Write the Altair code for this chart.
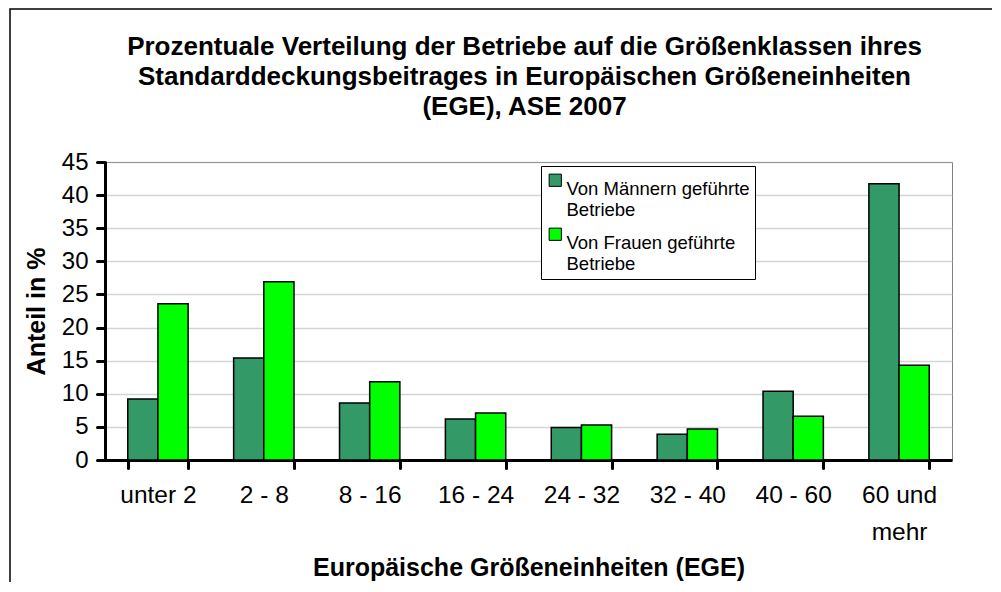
import altair as alt
import pandas as pd

categories = ["unter 2", "2 - 8", "8 - 16", "16 - 24", "24 - 32", "32 - 40", "40 - 60", "60 und mehr"]
men = [9.2, 15.4, 8.6, 6.2, 4.9, 3.9, 10.4, 41.7]
women = [23.6, 26.9, 11.8, 7.1, 5.3, 4.7, 6.6, 14.3]
series = ["Von Männern geführte Betriebe", "Von Frauen geführte Betriebe"]
colors = ["#339966", "#00FF00"]

rows = []
for c, m, w in zip(categories, men, women):
    rows.append({"Klasse": c, "Serie": series[0], "Anteil": m})
    rows.append({"Klasse": c, "Serie": series[1], "Anteil": w})
df = pd.DataFrame(rows)

FONT = "Liberation Sans"

bars = alt.Chart(df).mark_bar(stroke="black", strokeWidth=1.5).encode(
    x=alt.X("Klasse:N", sort=categories,
            scale=alt.Scale(paddingInner=0.43, paddingOuter=0.215),
            axis=alt.Axis(title="Europäische Größeneinheiten (EGE)", labelAngle=0,
                          tickBand="extent", grid=False,
                          labelExpr="datum.value == '60 und mehr' ? ['60 und', 'mehr'] : datum.value",
                          labelPadding=15, titlePadding=12, labelFontSize=24.5,
                          titleFontSize=25, labelLineHeight=37)),
    xOffset=alt.XOffset("Serie:N", sort=series),
    y=alt.Y("Anteil:Q", scale=alt.Scale(domain=[0, 45]),
            axis=alt.Axis(title="Anteil in %", values=list(range(0, 50, 5)),
                          titlePadding=12, labelPadding=9, labelFontSize=24,
                          titleFontSize=25)),
    color=alt.Color("Serie:N", sort=series,
                    scale=alt.Scale(domain=series, range=colors),
                    legend=alt.Legend(title=None, orient="none", legendX=436, legendY=4,
                                      labelExpr="[replace(datum.label, ' Betriebe', ''), 'Betriebe']",
                                      symbolType="square", symbolSize=150,
                                      symbolStrokeColor="black", symbolStrokeWidth=1,
                                      labelFontSize=18.5, labelFont=FONT, labelLimit=400,
                                      strokeColor="black", fillColor="white",
                                      padding=5, rowPadding=5, labelOffset=2,
                                      labelBaseline="top")),
)

frame = alt.Chart(pd.DataFrame({"a": [0]})).mark_rect(
    fill=None, stroke="black", strokeWidth=1.5, clip=False
).encode(
    x=alt.value(-95), x2=alt.value(1100), y=alt.value(-153), y2=alt.value(600)
)

chart = alt.layer(frame, bars).properties(
    width=847, height=298,
    title=alt.Title(
        ["Prozentuale Verteilung der Betriebe auf die Größenklassen ihres",
         "Standarddeckungsbeitrages in Europäischen Größeneinheiten",
         "(EGE), ASE 2007"],
        font=FONT, fontSize=26, fontWeight="bold", lineHeight=30,
        anchor="middle", offset=0, baseline="bottom", dy=138, dx=-4, color="black"),
    autosize=alt.AutoSizeParams(type="none"),
    padding={"left": 97, "top": 154, "right": 40, "bottom": 122},
).configure_view(
    stroke="#808080", strokeWidth=1
).configure_axis(
    labelFont=FONT, titleFont=FONT,
    labelColor="black", titleColor="black", titleFontWeight="bold",
    domainColor="black", domainWidth=3, tickColor="black", tickWidth=3, tickSize=8,
    tickCap="round",
).configure_axisY(
    gridColor="#a8a8a8", gridDash=[1, 1], gridWidth=1.5,
)

chart.save("out.html", embed_options={"renderer": "svg", "actions": False})
